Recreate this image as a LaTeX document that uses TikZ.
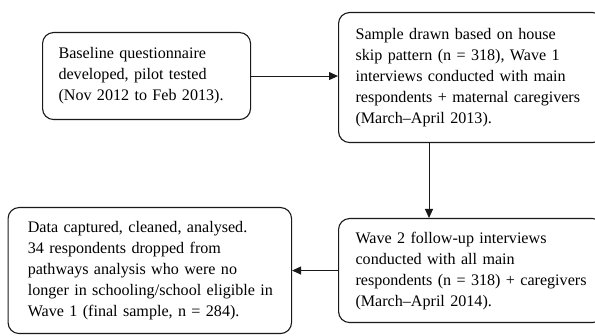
\documentclass[tikz,border=0pt]{standalone}
\usepackage{fontspec}
\setmainfont{Liberation Serif}
\usetikzlibrary{arrows.meta}
\usetikzlibrary{calc}
\definecolor{linie}{RGB}{25,25,25}
\hyphenpenalty=10000

\begin{document}
\begin{tikzpicture}[x=1pt,y=-1pt,linie,
	box/.style={draw,rounded corners=11pt,line width=1.1pt,align=left,anchor=north west,inner ysep=3pt,text=black,font=\fontsize{16.1}{21}\selectfont},
	pfeil/.style={line width=1pt,-{Triangle[length=9pt,width=8pt]}}]
	\useasboundingbox (0,0) rectangle (595,336);
	\node[box,text width=176pt,inner xsep=16pt,minimum height=87pt] (Q) at (42,32) {Baseline questionnaire\\developed, pilot tested\\(Nov 2012 to Feb 2013).};
	\node[box,text width=231pt,inner xsep=17pt,minimum height=130pt] (S) at (338,12) {Sample drawn based on house\\skip pattern (n~=~318), Wave~1\\interviews conducted with main\\respondents~+~maternal~caregivers\\(March–April 2013).};
	\node[box,text width=231pt,inner xsep=17pt,minimum height=104pt] (W) at (338,218) {Wave 2 follow-up interviews\\conducted with all main\\respondents~(n~=~318)~+~caregivers\\(March–April 2014).};
	\node[box,text width=244pt,inner xsep=19.75pt,minimum height=126pt] (D) at (7.5,207) {Data captured, cleaned, analysed.\\34 respondents dropped from\\pathways analysis who were no\\longer~in~schooling/school~eligible~in\\Wave 1 (final sample, n~=~284).};
	% arrows between the steps
	\draw[pfeil] (Q.east) -- (Q.east -| S.west);
	\draw[pfeil] ([xshift=91pt]S.south west) -- ([xshift=91pt]W.north west);
	\draw[pfeil] (W.west) -- (W.west -| D.east);
\end{tikzpicture}
\end{document}
